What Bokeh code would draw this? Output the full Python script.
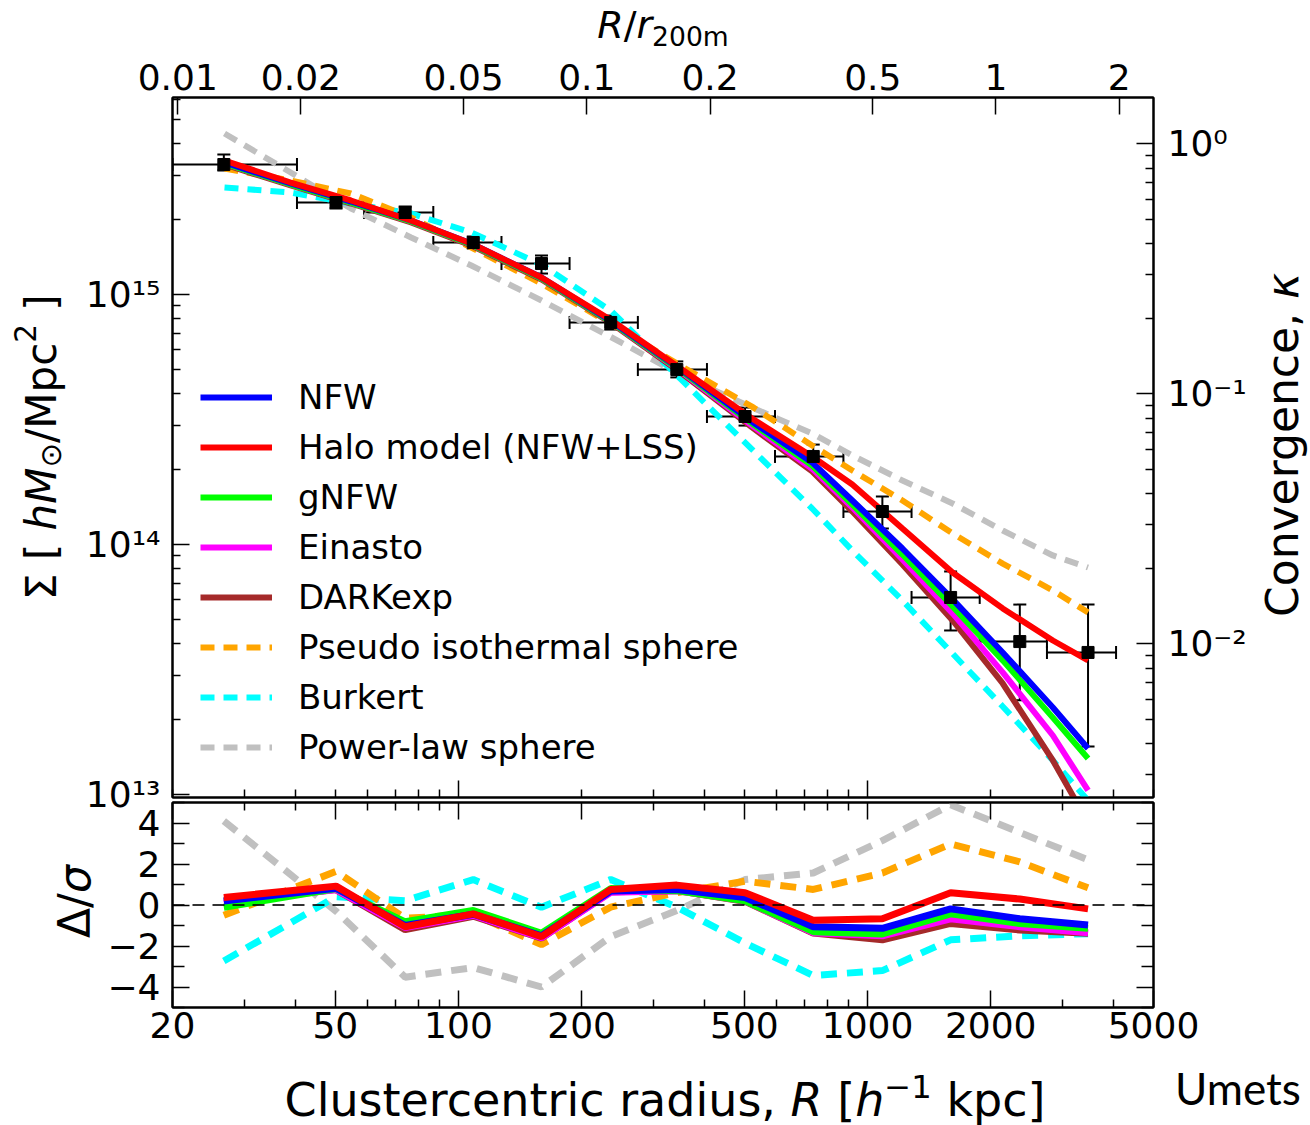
from bokeh.plotting import figure
from bokeh.models import (Range1d, LogScale, LogAxis, LinearAxis, FixedTicker,
                          CustomJSTickFormatter, Whisker, TeeHead, ColumnDataSource,
                          Legend, LegendItem, Span, Div)
from bokeh.layouts import column
from bokeh.embed import file_html
from bokeh.resources import INLINE

FONT = "DejaVu Sans"

# ---------------- data ----------------
# stacked surface-mass-density profile (bins)
R_bin = [26.7, 50.2, 74.1, 108.7, 159.6, 235.6, 341.8, 501.8, 736.6, 1087, 1596, 2356, 3459]
R_bin_lo = [20.0, 40.3, 58.8, 86.8, 127.4, 186.9, 274.5, 405, 594, 873, 1281, 1880, 2745]
R_bin_hi = [40.3, 58.8, 86.8, 127.4, 186.9, 274.5, 405, 594, 873, 1281, 1880, 2745, 4050]
sigma_obs = [3.31e15, 2.333e15, 2.128e15, 1.614e15, 1.330e15, 7.73e14, 5.01e14,
             3.25e14, 2.25e14, 1.355e14, 6.14e13, 4.09e13, 3.70e13]
sigma_obs_hi = [3.63e15, 2.466e15, 2.249e15, 1.706e15, 1.432e15, 8.24e14, 5.40e14,
                3.53e14, 2.51e14, 1.556e14, 7.80e13, 5.75e13, 5.75e13]
sigma_obs_lo = [3.13e15, 2.208e15, 2.014e15, 1.528e15, 1.213e15, 7.24e14, 4.66e14,
                2.99e14, 2.01e14, 1.159e14, 4.53e13, 2.38e13, 1.556e13]

# model profiles
R_model = [26.8, 38.9, 54.6, 76.6, 107.5, 159.6, 237, 352, 522, 732, 918, 1217, 1614,
           2140, 2838, 3459]
sigma_nfw = [3.373e15, 2.780e15, 2.355e15, 1.977e15, 1.600e15, 1.169e15, 7.80e14, 4.97e14,
             3.10e14, 2.13e14, 1.500e14, 9.64e13, 6.03e13, 3.70e13, 2.23e13, 1.528e13]
sigma_halo = [3.436e15, 2.805e15, 2.377e15, 1.977e15, 1.600e15, 1.169e15, 7.87e14, 5.01e14,
              3.19e14, 2.25e14, 1.738e14, 1.159e14, 7.73e13, 5.55e13, 4.13e13, 3.44e13]
sigma_gnfw = [3.342e15, 2.754e15, 2.333e15, 1.959e15, 1.585e15, 1.159e15, 7.73e14, 4.92e14,
              3.05e14, 2.07e14, 1.445e14, 9.12e13, 5.65e13, 3.44e13, 2.03e13, 1.393e13]
sigma_einasto = [3.342e15, 2.754e15, 2.333e15, 1.959e15, 1.585e15, 1.159e15, 7.73e14, 4.88e14,
                 2.99e14, 2.01e14, 1.406e14, 8.71e13, 5.30e13, 3.08e13, 1.722e13, 1.038e13]
sigma_darkexp = [3.311e15, 2.729e15, 2.312e15, 1.941e15, 1.570e15, 1.148e15, 7.66e14, 4.83e14,
                 2.94e14, 1.96e14, 1.355e14, 8.32e13, 4.97e13, 2.78e13, 1.368e13, 7.73e12]
sigma_pis = [3.192e15, 2.858e15, 2.535e15, 2.032e15, 1.542e15, 1.107e15, 7.59e14, 5.15e14,
             3.56e14, 2.49e14, 1.977e14, 1.500e14, 1.107e14, 8.39e13, 6.55e13, 5.35e13]
sigma_burkert = [2.679e15, 2.559e15, 2.312e15, 2.109e15, 1.770e15, 1.318e15, 8.55e14, 4.53e14,
                 2.40e14, 1.393e14, 9.46e13, 5.97e13, 3.66e13, 2.25e13, 1.368e13, 9.46e12]
sigma_powerlaw = [4.406e15, 3.076e15, 2.208e15, 1.690e15, 1.306e15, 9.46e14, 6.73e14, 4.74e14,
                  3.53e14, 2.78e14, 2.27e14, 1.803e14, 1.459e14, 1.138e14, 9.04e13, 8.09e13]

# residuals Delta/sigma at the bins
delta_nfw = [0.20, 0.82, -1.00, -0.45, -1.50, 0.68, 0.76, 0.37, -1.06, -1.14, -0.19, -0.67, -0.98]
delta_halo = [0.37, 0.92, -1.06, -0.43, -1.54, 0.76, 0.97, 0.60, -0.74, -0.67, 0.60, 0.29, -0.19]
delta_gnfw = [-0.11, 0.80, -0.82, -0.27, -1.38, 0.80, 0.70, 0.21, -1.30, -1.41, -0.43, -0.90, -1.14]
delta_einasto = [0.10, 0.75, -1.10, -0.50, -1.60, 0.62, 0.70, 0.20, -1.35, -1.50, -0.67, -1.06, -1.35]
delta_darkexp = [0.20, 0.75, -1.20, -0.55, -1.62, 0.65, 0.70, 0.18, -1.37, -1.70, -0.90, -1.22, -1.38]
delta_pis = [-0.50, 1.64, -0.65, -0.45, -1.93, -0.10, 0.60, 1.16, 0.76, 1.56, 2.98, 2.10, 0.84]
delta_burkert = [-2.73, 0.40, 0.21, 1.24, -0.11, 1.24, -0.10, -1.86, -3.44, -3.20, -1.70, -1.50, -1.40]
delta_powerlaw = [4.10, -0.30, -3.52, -3.05, -4.00, -1.54, -0.27, 1.24, 1.56, 3.14, 4.89, 3.54, 2.20]

SIGMA_CRIT = 4.0e15      # h M_sun / Mpc^2  (kappa = Sigma / Sigma_crit)
R200M = 2060.0           # h^-1 kpc

x_major = [20, 50, 100, 200, 500, 1000, 2000, 5000]
x_minor = [30, 40, 60, 70, 80, 90, 300, 400, 600, 700, 800, 900, 3000, 4000]
x_major_main = [100, 1000]
x_minor_main = [20, 30, 40, 50, 60, 70, 80, 90, 200, 300, 400, 500, 600, 700, 800, 900,
                2000, 3000, 4000, 5000]
rr_ticks = [0.01, 0.02, 0.05, 0.1, 0.2, 0.5, 1, 2]
sig_major = [1e13, 1e14, 1e15]
sig_minor = [2e13, 3e13, 4e13, 5e13, 6e13, 7e13, 8e13, 9e13,
             2e14, 3e14, 4e14, 5e14, 6e14, 7e14, 8e14, 9e14, 2e15, 3e15, 4e15, 5e15, 6e15]
kap_major = [0.01, 0.1, 1.0]
kap_minor = [0.003, 0.004, 0.005, 0.006, 0.007, 0.008, 0.009,
             0.02, 0.03, 0.04, 0.05, 0.06, 0.07, 0.08, 0.09,
             0.2, 0.3, 0.4, 0.5, 0.6, 0.7, 0.8, 0.9]
d_major = [-4, -2, 0, 2, 4]
d_minor = [-5, -3, -1, 1, 3, 5]

# axis titles (HTML, so that italics / sub- and superscripts match)
SUB = '<span style="font-size:70%;vertical-align:-0.3em;line-height:0">{}</span>'
SUP = '<span style="font-size:70%;vertical-align:0.55em;line-height:0">{}</span>'
TITLE_TOP = "<i>R</i>/<i>r</i>" + SUB.format("200m")
TITLE_LEFT = "\u03a3 [ <i>hM</i>" + SUB.format("\u2299") + "/Mpc" + SUP.format("2") + " ]"
TITLE_RIGHT = "Convergence, <i>\u03ba</i>"
TITLE_RES = "\u0394/<i>\u03c3</i>"
TITLE_BOTTOM = ("Clustercentric radius, <i>R</i> [<i>h</i>" + SUP.format("\u22121")
                + " kpc]")
CREDIT = "Umets"

# ---------------- styles ----------------
COL = dict(nfw="#0000ff", halo="#ff0000", gnfw="#00ff00", einasto="#ff00ff",
           darkexp="#a52a2a", pis="#ffa500", burkert="#00ffff", powerlaw="#c0c0c0")

SUP_CODE = """
const m = {"0":"\u2070","1":"\u00b9","2":"\u00b2","3":"\u00b3","4":"\u2074","5":"\u2075",
           "6":"\u2076","7":"\u2077","8":"\u2078","9":"\u2079","-":"\u207b"};
const e = Math.round(Math.log10(tick));
return "10" + String(e).split("").map((c) => m[c]).join("");
"""
INT_CODE = "return tick.toFixed(0);"
TOP_CODE = "return String(parseFloat(tick.toPrecision(2)));"
MINUS_CODE = "return tick < 0 ? '\u2212' + Math.abs(tick) : String(tick);"
BLANK_CODE = "return ' ';"

Y_LO, Y_HI = 10 ** 12.988, 10 ** 15.788


def style_axis(ax, labels=True, font_size="36px", standoff=10):
    ax.major_tick_in = 17
    ax.major_tick_out = 0
    ax.minor_tick_in = 8
    ax.minor_tick_out = 0
    ax.major_tick_line_color = "black"
    ax.minor_tick_line_color = "black"
    ax.major_tick_line_width = 1.5
    ax.minor_tick_line_width = 1.5
    ax.axis_line_color = "black"
    ax.axis_line_width = 2
    ax.major_label_text_font = FONT
    ax.major_label_text_color = "black"
    if labels:
        ax.major_label_text_font_size = font_size
        ax.major_label_standoff = standoff
    else:
        ax.formatter = CustomJSTickFormatter(code=BLANK_CODE)
        ax.major_label_text_font_size = "2px"
        ax.major_label_standoff = 0


# ---------------- main panel ----------------
p = figure(width=1310, height=837, x_axis_type="log", y_axis_type="log",
           x_range=Range1d(20, 5000), y_range=Range1d(Y_LO, Y_HI),
           output_backend="svg", toolbar_location=None,
           min_border_left=172, min_border_right=157, min_border_top=97,
           min_border_bottom=40)
p.grid.visible = False
p.outline_line_color = "black"
p.outline_line_width = 2

p.extra_x_ranges = {"rr": Range1d(20 / R200M, 5000 / R200M)}
p.extra_x_scales = {"rr": LogScale()}
p.extra_y_ranges = {"kappa": Range1d(Y_LO / SIGMA_CRIT, Y_HI / SIGMA_CRIT)}
p.extra_y_scales = {"kappa": LogScale()}

p.xaxis.ticker = FixedTicker(ticks=x_major_main, minor_ticks=x_minor_main)
style_axis(p.xaxis[0], labels=False)

p.yaxis.ticker = FixedTicker(ticks=sig_major, minor_ticks=sig_minor)
p.yaxis.formatter = CustomJSTickFormatter(code=SUP_CODE)
style_axis(p.yaxis[0], standoff=12)

top = LogAxis(x_range_name="rr", ticker=FixedTicker(ticks=rr_ticks),
              formatter=CustomJSTickFormatter(code=TOP_CODE))
style_axis(top, standoff=8)
p.add_layout(top, "above")

right = LogAxis(y_range_name="kappa", ticker=FixedTicker(ticks=kap_major, minor_ticks=kap_minor),
                formatter=CustomJSTickFormatter(code=SUP_CODE))
style_axis(right, standoff=14)
p.add_layout(right, "right")

DASH_MAIN = "14 9"
LW = 6
r_pl = p.line(R_model, sigma_powerlaw, line_color=COL["powerlaw"], line_width=LW, line_dash=DASH_MAIN)
r_bk = p.line(R_model, sigma_burkert, line_color=COL["burkert"], line_width=LW, line_dash=DASH_MAIN)
r_pis = p.line(R_model, sigma_pis, line_color=COL["pis"], line_width=LW, line_dash=DASH_MAIN)
r_dx = p.line(R_model, sigma_darkexp, line_color=COL["darkexp"], line_width=LW)
r_ein = p.line(R_model, sigma_einasto, line_color=COL["einasto"], line_width=LW)
r_gn = p.line(R_model, sigma_gnfw, line_color=COL["gnfw"], line_width=LW)
r_nfw = p.line(R_model, sigma_nfw, line_color=COL["nfw"], line_width=LW)
r_halo = p.line(R_model, sigma_halo, line_color=COL["halo"], line_width=LW)

obs = ColumnDataSource(dict(R=R_bin, Rlo=R_bin_lo, Rhi=R_bin_hi,
                            s=sigma_obs, slo=sigma_obs_lo, shi=sigma_obs_hi))
p.add_layout(Whisker(source=obs, base="R", lower="slo", upper="shi", dimension="height",
                     line_color="black", line_width=2,
                     upper_head=TeeHead(size=13, line_color="black", line_width=2),
                     lower_head=TeeHead(size=13, line_color="black", line_width=2)))
p.add_layout(Whisker(source=obs, base="s", lower="Rlo", upper="Rhi", dimension="width",
                     line_color="black", line_width=2,
                     upper_head=TeeHead(size=13, line_color="black", line_width=2),
                     lower_head=TeeHead(size=13, line_color="black", line_width=2)))
p.scatter("R", "s", source=obs, marker="square", size=12, color="black")

legend = Legend(items=[
    LegendItem(label="NFW", renderers=[r_nfw]),
    LegendItem(label="Halo model (NFW+LSS)", renderers=[r_halo]),
    LegendItem(label="gNFW", renderers=[r_gn]),
    LegendItem(label="Einasto", renderers=[r_ein]),
    LegendItem(label="DARKexp", renderers=[r_dx]),
    LegendItem(label="Pseudo isothermal sphere", renderers=[r_pis]),
    LegendItem(label="Burkert", renderers=[r_bk]),
    LegendItem(label="Power-law sphere", renderers=[r_pl]),
], location=(28, 30), orientation="vertical", label_text_font=FONT,
    label_text_font_size="34px", label_text_color="black",
    glyph_width=72, glyph_height=40, label_height=40, spacing=10,
    padding=2, margin=0, label_standoff=26,
    background_fill_alpha=0, border_line_color=None)
p.add_layout(legend)

# ---------------- residual panel ----------------
q = figure(width=1310, height=328, x_axis_type="log", x_range=p.x_range,
           y_range=Range1d(-5, 5), output_backend="svg", toolbar_location=None,
           min_border_left=172, min_border_right=157, min_border_top=0,
           min_border_bottom=118, border_fill_alpha=0, margin=(-40, 0, 0, 0))
q.grid.visible = False
q.outline_line_color = "black"
q.outline_line_width = 2

xt = FixedTicker(ticks=x_major, minor_ticks=x_minor)
q.xaxis.ticker = xt
q.xaxis.formatter = CustomJSTickFormatter(code=INT_CODE)
style_axis(q.xaxis[0], standoff=4)

dt = FixedTicker(ticks=d_major, minor_ticks=d_minor)
q.yaxis.ticker = dt
q.yaxis.formatter = CustomJSTickFormatter(code=MINUS_CODE)
style_axis(q.yaxis[0], standoff=12)
for ax in q.yaxis:
    ax.minor_tick_in = 12

qt = LogAxis(ticker=xt)
style_axis(qt, labels=False)
q.add_layout(qt, "above")
qr = LinearAxis(ticker=dt)
style_axis(qr, labels=False)
qr.minor_tick_in = 12
q.add_layout(qr, "right")

DASH_RES = "16 10"
LW2 = 7
q.line(R_bin, delta_powerlaw, line_color=COL["powerlaw"], line_width=LW2, line_dash=DASH_RES)
q.line(R_bin, delta_burkert, line_color=COL["burkert"], line_width=LW2, line_dash=DASH_RES)
q.line(R_bin, delta_pis, line_color=COL["pis"], line_width=LW2, line_dash=DASH_RES)
q.line(R_bin, delta_darkexp, line_color=COL["darkexp"], line_width=LW2)
q.line(R_bin, delta_einasto, line_color=COL["einasto"], line_width=LW2)
q.line(R_bin, delta_gnfw, line_color=COL["gnfw"], line_width=LW2)
q.line(R_bin, delta_nfw, line_color=COL["nfw"], line_width=LW2)
q.line(R_bin, delta_halo, line_color=COL["halo"], line_width=LW2)

q.add_layout(Span(location=0, dimension="width", line_color="black", line_alpha=0.8,
                  line_width=2, line_dash="12 8"))

# ---------------- axis titles as HTML overlays ----------------
BASE = {"font-family": "'DejaVu Sans', sans-serif", "color": "black", "white-space": "nowrap"}
VERT = {"writing-mode": "vertical-rl", "transform": "rotate(180deg)", "text-align": "center"}

# (html, left, top, width, height, font px, vertical?, extra font family)
overlays = [
    (TITLE_TOP, 563, 0, 200, 50, 38, False, None),
    (TITLE_RIGHT, 1257, 255, 52, 380, 44, True, None),
    (TITLE_LEFT, 16, 267, 52, 360, 42, True, None),
    (TITLE_RES, 49, 852, 52, 100, 44, True, None),
    (CREDIT, 1168, 1063, 140, 50, 44, False, "Lato, 'Open Sans', sans-serif"),
    (TITLE_BOTTOM, 215, 1075, 900, 50, 46, False, None),
]

children = [p, q]
flow_y = 837 - 40 + 328
for html, left, top_px, w, h, fs, vertical, fam in overlays:
    st = dict(BASE)
    st["font-size"] = "%dpx" % fs
    if vertical:
        st.update(VERT)
        st["line-height"] = "%dpx" % w
    else:
        st["line-height"] = "%dpx" % h
        st["text-align"] = "center"
    if fam:
        st["font-family"] = fam
    children.append(Div(text=html, width=w, height=h, margin=(top_px - flow_y, 0, 0, left),
                        styles=st))
    flow_y = top_px + h

layout = column(children, spacing=0)
open("out.html", "w", encoding="utf-8").write(file_html(layout, INLINE))
